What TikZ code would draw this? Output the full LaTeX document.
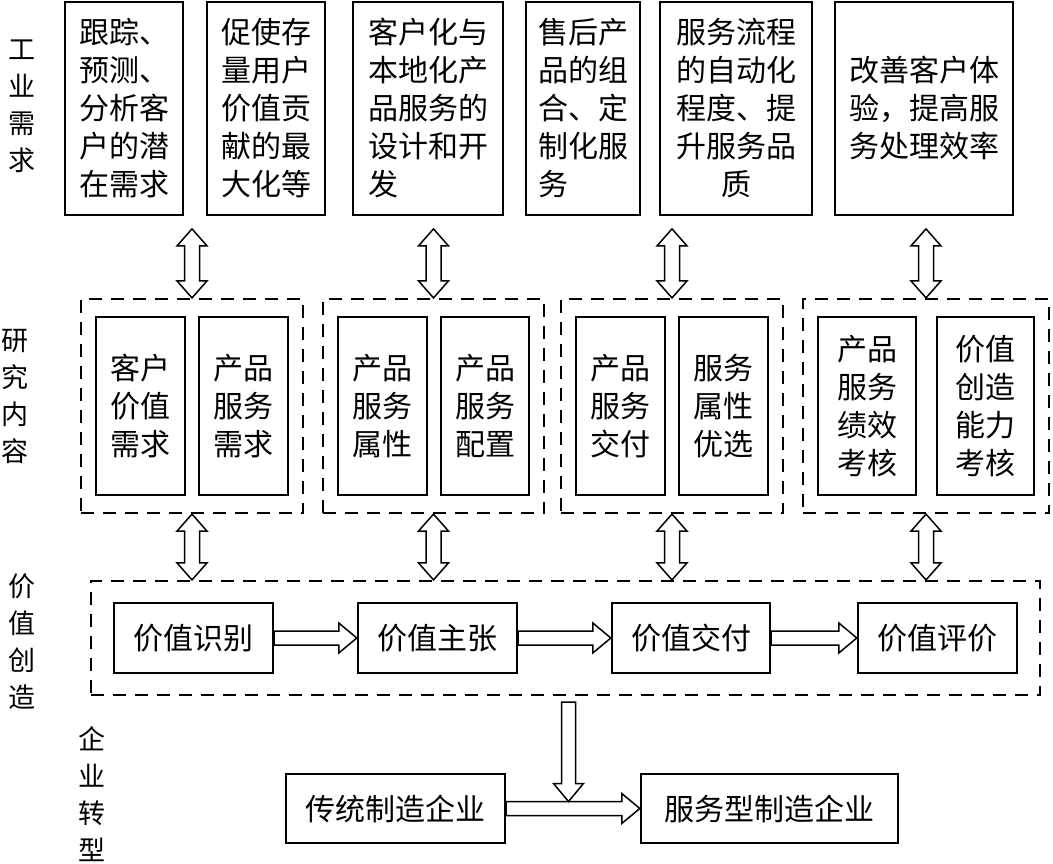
\documentclass[tikz,border=0pt]{standalone}
\usepackage{fontspec}
\setmainfont{Noto Sans CJK SC}
\usetikzlibrary{calc, fit, positioning}
\tikzset{
  every picture/.style={line width=2.4pt, x=1pt, y=-1pt},
  box/.style={draw, align=left, inner sep=0pt, font=\fontsize{30}{38}\selectfont},
  group/.style={draw, dash pattern=on 13pt off 9pt, line width=1.8pt, inner xsep=14pt, inner ysep=17pt},
  side/.style={align=center, inner sep=0pt, font=\fontsize{27}{37}\selectfont},
  fatarrow/.style={draw, fill=white, line width=1.5pt, line join=miter, to path={
    ($(\tikztostart)!7pt!90:(\tikztotarget)$)
    -- ($(\tikztotarget)!18pt!(\tikztostart)!7pt!90:(\tikztotarget)$)
    -- ($(\tikztotarget)!18pt!(\tikztostart)!15pt!90:(\tikztotarget)$)
    -- (\tikztotarget)
    -- ($(\tikztotarget)!18pt!(\tikztostart)!15pt!-90:(\tikztotarget)$)
    -- ($(\tikztotarget)!18pt!(\tikztostart)!7pt!-90:(\tikztotarget)$)
    -- ($(\tikztostart)!7pt!-90:(\tikztotarget)$) -- cycle}},
  dblarrow/.style={draw, fill=white, line width=1.5pt, line join=miter, to path={
    (\tikztostart)
    -- ($(\tikztostart)!17pt!(\tikztotarget)!15pt!90:(\tikztotarget)$)
    -- ($(\tikztostart)!17pt!(\tikztotarget)!7.5pt!90:(\tikztotarget)$)
    -- ($(\tikztotarget)!17pt!(\tikztostart)!7.5pt!90:(\tikztotarget)$)
    -- ($(\tikztotarget)!17pt!(\tikztostart)!15pt!90:(\tikztotarget)$)
    -- (\tikztotarget)
    -- ($(\tikztotarget)!17pt!(\tikztostart)!15pt!-90:(\tikztotarget)$)
    -- ($(\tikztotarget)!17pt!(\tikztostart)!7.5pt!-90:(\tikztotarget)$)
    -- ($(\tikztostart)!17pt!(\tikztotarget)!7.5pt!-90:(\tikztotarget)$)
    -- ($(\tikztostart)!17pt!(\tikztotarget)!15pt!-90:(\tikztotarget)$)
    -- cycle}},
}

\begin{document}
\begin{tikzpicture}
  \useasboundingbox (0,0) rectangle (1053,863);
  % row labels
  \node[side] (lab1) at (22,106) {工\\业\\需\\求};
  \node[side] (lab2) at (15,396) {研\\究\\内\\容};
  \node[side] (lab3) at (22,642) {价\\值\\创\\造};
  \node[side] (lab4) at (92,794) {企\\业\\转\\型};

  % industrial needs
  \node[box, minimum width=118, minimum height=213] (n1) at (124,108.5) {跟踪、\\预测、\\分析客\\户的潜\\在需求};
  \node[box, minimum width=118, minimum height=213] (n2) at (266,108.5) {促使存\\量用户\\价值贡\\献的最\\大化等};
  \node[box, minimum width=150, minimum height=213] (n3) at (428,108.5) {客户化与\\本地化产\\品服务的\\设计和开\\发};
  \node[box, minimum width=114, minimum height=213] (n4) at (583,108.5) {售后产\\品的组\\合、定\\制化服\\务};
  \node[box, align=center, minimum width=152, minimum height=213] (n5) at (736,108.5) {服务流程\\的自动化\\程度、提\\升服务品\\质};
  \node[box, minimum width=178, minimum height=213] (n6) at (924,108.5) {改善客户体\\验，提高服\\务处理效率};

  % research content
  \begin{scope}[every node/.append style={font=\fontsize{29}{38}\selectfont}]
    \node[box, align=center, minimum width=89, minimum height=178] (c1) at (140.5,406) {客户\\价值\\需求};
    \node[box, align=center, minimum width=89, minimum height=178] (c2) at (243.5,406) {产品\\服务\\需求};
    \node[box, align=center, minimum width=89, minimum height=178] (c3) at (382.5,406) {产品\\服务\\属性};
    \node[box, align=center, minimum width=88, minimum height=178] (c4) at (485,406) {产品\\服务\\配置};
    \node[box, align=center, minimum width=89, minimum height=178] (c5) at (620.5,406) {产品\\服务\\交付};
    \node[box, align=center, minimum width=89, minimum height=178] (c6) at (723.5,406) {服务\\属性\\优选};
    \node[box, align=center, minimum width=98, minimum height=178] (c7) at (867,406) {产品\\服务\\绩效\\考核};
    \node[box, align=center, minimum width=97, minimum height=178] (c8) at (985.5,406) {价值\\创造\\能力\\考核};
  \end{scope}
  \node[group, fit=(c1)(c2)] (g1) {};
  \node[group, fit=(c3)(c4)] (g2) {};
  \node[group, fit=(c5)(c6)] (g3) {};
  \node[group, fit=(c7)(c8)] (g4) {};

  % value creation
  \node[box, minimum width=159, minimum height=70] (v1) at (193.5,638) {价值识别};
  \node[box, minimum width=159, minimum height=70] (v2) at (437.5,638) {价值主张};
  \node[box, minimum width=158, minimum height=70] (v3) at (691,638) {价值交付};
  \node[box, minimum width=159, minimum height=70] (v4) at (937.5,638) {价值评价};
  \node[group, inner xsep=22pt, inner ysep=21pt, fit=(v1)(v4)] (vc) {};

  % enterprise transformation
  \node[box, minimum width=219, minimum height=69] (t1) at (395.5,808.5) {传统制造企业};
  \node[box, minimum width=257, minimum height=69] (t2) at (769.5,808.5) {服务型制造企业};

  % arrows
  \foreach \g in {g1,g2,g3,g4} {
    \coordinate (up-\g) at ($(\g.north)+(0,-69)$);
    \draw[dblarrow] (up-\g) to (\g.north);
    \draw[dblarrow] (\g.south) to (\g.south |- vc.north);
  }
  \draw[fatarrow] (v1.east) to (v2.west);
  \draw[fatarrow] (v2.east) to (v3.west);
  \draw[fatarrow] (v3.east) to (v4.west);
  \draw[fatarrow] (t1.east) to (t2.west);
  \coordinate (dtop) at ($(vc.south)+(3,6)$);
  \coordinate (dtip) at ($(dtop |- t1.center)+(0,-7)$);
  \draw[fatarrow] (dtop) to (dtip);
\end{tikzpicture}
\end{document}
